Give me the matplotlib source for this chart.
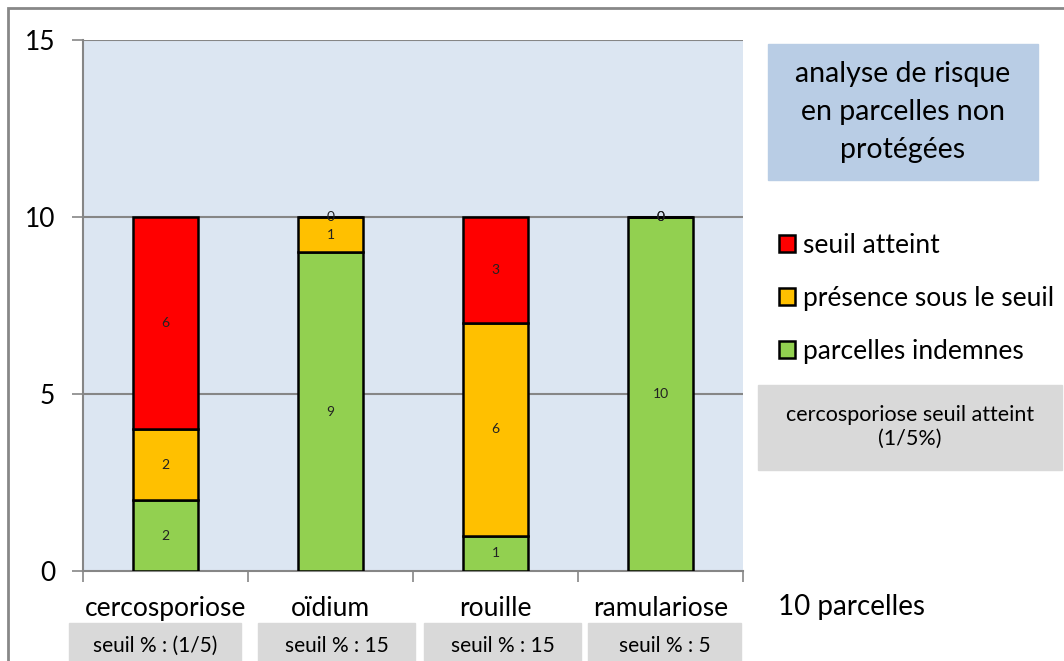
import numpy as np
import matplotlib.pyplot as plt
from matplotlib.patches import Rectangle

plt.rcParams['font.family'] = ['Lato', 'DejaVu Sans']

# donnees
maladies = ['cercosporiose', 'oïdium', 'rouille', 'ramulariose']
seuils = ['seuil % : (1/5)', 'seuil % : 15', 'seuil % : 15', 'seuil % : 5']
indemnes = [2, 9, 1, 10]
presence = [2, 1, 6, 0]
atteint = [6, 0, 3, 0]
series = [('parcelles indemnes', indemnes, '#92D050'),
          ('présence sous le seuil', presence, '#FFC000'),
          ('seuil atteint', atteint, '#FF0000')]

W, H = 1064, 661
fig = plt.figure(figsize=(W / 100, H / 100), dpi=100)

def fx(px):
    return px / W

def fy(py):
    return 1 - py / H

ax = fig.add_axes([fx(83), fy(571), fx(743) - fx(83), fy(40) - fy(571)])
ax.set_facecolor('#DCE6F2')

x = np.arange(len(maladies))
bottom = np.zeros(len(maladies))
for name, vals, col in series:
    vals = np.array(vals, dtype=float)
    ax.bar(x, vals, width=0.39, bottom=bottom, color=col, edgecolor='black',
           linewidth=1.8, zorder=3, label=name)
    for xi, b, v in zip(x, bottom, vals):
        ax.text(xi, b + v / 2, '%d' % v, ha='center', va='center', fontsize=10,
                color='#222222', zorder=4)
    bottom += vals

ax.set_xlim(-0.5, 3.5)
ax.set_ylim(0, 15)
ax.set_yticks([0, 5, 10, 15])
ax.set_xticks([-0.5, 0.5, 1.5, 2.5, 3.5])
ax.set_xticklabels([])
ax.tick_params(axis='y', labelsize=19, length=8, width=1.2, color='#868686', pad=12)
ax.tick_params(axis='x', length=8, width=1.2, color='#868686')
for y in [5, 10, 15]:
    ax.axhline(y, color='#868686', lw=1.5, zorder=1)
for s in ['top', 'right']:
    ax.spines[s].set_visible(False)
for s in ['left', 'bottom']:
    ax.spines[s].set_color('#868686')
    ax.spines[s].set_linewidth(1.5)

# noms des maladies sous l'axe
for xi, nom in zip(x, maladies):
    ax.text(xi, -1.07, nom, ha='center', va='center', fontsize=19,
            transform=ax.transData, clip_on=False)

# cases grises avec le seuil
boites = [(69, 241), (258, 415), (424, 581), (588, 741)]
for (x0, x1), txt in zip(boites, seuils):
    fig.patches.append(Rectangle((fx(x0), 0), fx(x1) - fx(x0), fy(623),
                                 transform=fig.transFigure, color='#D9D9D9', zorder=0))
    fig.text(fx((x0 + x1) / 2), fy(646), txt, ha='center', va='center', fontsize=15)

# titre
fig.patches.append(Rectangle((fx(768), fy(180)), fx(1038) - fx(768), fy(44) - fy(180),
                             transform=fig.transFigure, color='#B9CDE5'))
fig.text(fx(903), fy(112), 'analyse de risque\nen parcelles non\nprotégées',
         ha='center', va='center', fontsize=20.5, linespacing=1.55)

# legende
h, l = ax.get_legend_handles_labels()
leg = fig.legend(h[::-1], l[::-1], loc='upper left', bbox_to_anchor=(fx(758), fy(212)),
                 frameon=False, fontsize=19, handlelength=0.6, handleheight=0.6,
                 handletextpad=0.3, labelspacing=1.05, borderpad=0.3)
for p in leg.get_patches():
    p.set_linewidth(1.8)

# case cercosporiose
fig.patches.append(Rectangle((fx(758), fy(470)), fx(1062) - fx(758), fy(385) - fy(470),
                             transform=fig.transFigure, color='#D9D9D9'))
fig.text(fx(910), fy(427), 'cercosporiose seuil atteint\n(1/5%)', ha='center',
         va='center', fontsize=15.5, linespacing=1.2)

fig.text(fx(778), fy(607), '10 parcelles', ha='left', va='center', fontsize=20)

# cadre exterieur
fig.patches.append(Rectangle((fx(8), -0.01), 1.0, fy(8) + 0.01, transform=fig.transFigure,
                             fill=False, edgecolor='#888888', linewidth=2))

plt.savefig('out.png', dpi=100)
